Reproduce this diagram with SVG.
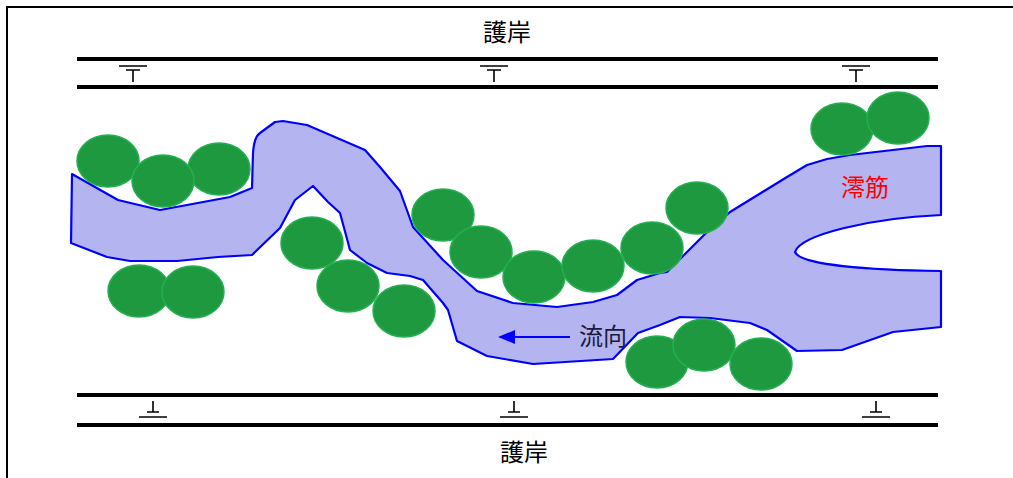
<svg xmlns="http://www.w3.org/2000/svg" width="1013" height="478" viewBox="0 0 1013 478">
<style>
.bank{stroke:#000;stroke-width:4;fill:none}
.sym{stroke:#000;stroke-width:1.6;fill:none}
.tree{fill:#1F9940;stroke:#22B050;stroke-width:1.5}
.lbl{font-family:"Noto Sans CJK JP","Liberation Sans",sans-serif;font-size:24px;text-anchor:middle}
</style>
<rect x="0" y="0" width="1013" height="478" fill="#fff"/>
<rect x="7" y="7" width="1030" height="500" fill="none" stroke="#000" stroke-width="2"/>
<g id="banks">
<line class="bank" x1="77" y1="59" x2="938" y2="59"/>
<line class="bank" x1="77" y1="87" x2="938" y2="87"/>
<line class="bank" x1="77" y1="395" x2="938" y2="395"/>
<line class="bank" x1="77" y1="425" x2="938" y2="425"/>
</g>
<g id="water-level-top">
<path class="sym" d="M119,66H147M126,70H140M133,70V82"/>
<path class="sym" d="M480,66H508M487,70H501M494,70V82"/>
<path class="sym" d="M842,66H870M849,70H863M856,70V82"/>
</g>
<g id="water-level-bottom">
<path class="sym" d="M153,401V412M147,412H159M139,417H167"/>
<path class="sym" d="M514,401V412M508,412H520M500,417H528"/>
<path class="sym" d="M876,401V412M870,412H882M862,417H890"/>
</g>
<g id="bank-top-label"><text class="lbl" x="507" y="41">護岸</text></g>
<g id="bank-bottom-label"><text class="lbl" x="524" y="461">護岸</text></g>
<g id="channel">
<path fill="#B4B4F0" stroke="#0000FF" stroke-width="2.2" stroke-linejoin="round" d="M72,174 L118,200 L160,210 L230,197 L252,188 L253,153 Q254,137 260,133 L275,122 L283,121 L307,125 L365,150 L380,167 L400,191 L413,227 L443,260 L477,291 L513,303 L557,307 L593,302 L617,295 L637,280 L660,273 L667,272 L707,232 L730,212 L787,177 L807,165 L827,159 L850,155 L927,146 L941,146 L941,215 C870,218 800,235 795,252 C800,265 870,270 941,271 L941,327 L893,332 L842,350 L797,351 L767,330 L750,323 L710,318 L680,317 L660,325 L638,333 L613,359 L533,364 L487,356 L457,341 L448,310 L443,303 L423,280 L410,276 L387,273 L367,263 L350,250 L340,213 L328,202 L313,186 L295,200 L280,228 L252,255 L218,257 L177,261 L130,261 L107,257 L71,243 Z"/>
</g>
<g id="trees">
<ellipse class="tree" cx="108" cy="161" rx="31" ry="26"/>
<ellipse class="tree" cx="219" cy="169" rx="31" ry="26"/>
<ellipse class="tree" cx="163" cy="181" rx="31" ry="26"/>
<ellipse class="tree" cx="139" cy="291" rx="31" ry="26"/>
<ellipse class="tree" cx="193" cy="292" rx="31" ry="26"/>
<ellipse class="tree" cx="312" cy="243" rx="31" ry="26"/>
<ellipse class="tree" cx="348" cy="286" rx="31" ry="26"/>
<ellipse class="tree" cx="404" cy="311" rx="31" ry="26"/>
<ellipse class="tree" cx="443" cy="215" rx="31" ry="26"/>
<ellipse class="tree" cx="481" cy="252" rx="31" ry="26"/>
<ellipse class="tree" cx="534" cy="277" rx="31" ry="26"/>
<ellipse class="tree" cx="593" cy="266" rx="31" ry="26"/>
<ellipse class="tree" cx="652" cy="248" rx="31" ry="26"/>
<ellipse class="tree" cx="697" cy="208" rx="31" ry="26"/>
<ellipse class="tree" cx="842" cy="129" rx="31" ry="26"/>
<ellipse class="tree" cx="898" cy="118" rx="31" ry="26"/>
<ellipse class="tree" cx="657" cy="362" rx="31" ry="26"/>
<ellipse class="tree" cx="704" cy="345" rx="31" ry="26"/>
<ellipse class="tree" cx="761" cy="364" rx="31" ry="26"/>
</g>
<g id="connectors">
<line x1="570" y1="337" x2="512" y2="337" stroke="#0000FF" stroke-width="2"/>
<polygon points="498,337 515,330 515,344" fill="#0000FF"/>
</g>
<g id="flow-label"><text class="lbl" x="603" y="345" fill="#1A1A40">流向</text></g>
<g id="main-channel-label"><text class="lbl" x="865" y="196" fill="#FF0000">澪筋</text></g>
</svg>
